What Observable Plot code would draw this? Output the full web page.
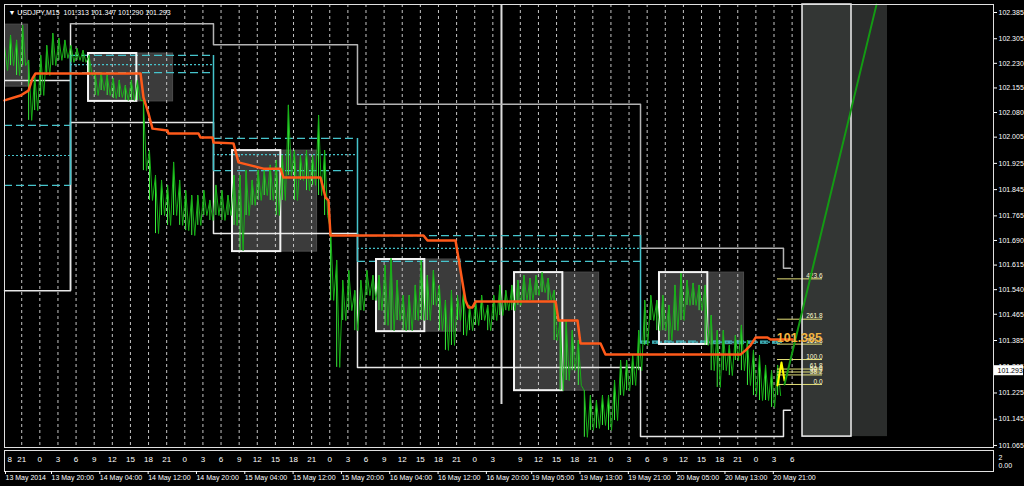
<!DOCTYPE html>
<html><head><meta charset="utf-8">
<script src="https://cdn.jsdelivr.net/npm/d3@7"></script>
<script src="https://cdn.jsdelivr.net/npm/@observablehq/plot@0.6"></script>
<style>
html,body{margin:0;padding:0;background:#000;overflow:hidden;}
#chart svg{display:block;}
</style></head><body><div id="chart"></div>
<script>
// ---------- data ----------
const symbol = "USDJPY,M15";
const lastBar = [101.313, 101.347, 101.290, 101.293];   // O H L C
const chartStart = "2014-05-13T12:23";                 // time at left edge
const weekendAt = "2014-05-19T00:00";
const weekendGapHours = 49.5;

// hourly high / low of USDJPY (hour index from left edge)
const barHigh = [102.284,102.315,102.300,102.345,102.239,102.193,102.254,102.284,102.321,102.306,
102.300,102.284,102.275,102.269,102.254,102.202,102.202,102.193,102.184,102.178,
102.162,102.178,102.178,102.117,101.964,101.888,101.873,101.858,101.928,101.873,
101.842,101.827,101.827,101.842,101.812,101.858,101.842,101.827,101.888,101.888,
101.903,101.873,101.903,101.903,101.919,101.934,101.949,102.102,101.964,101.949,
101.964,101.949,102.071,101.964,101.720,101.629,101.568,101.598,101.537,101.568,
101.598,101.583,101.583,101.614,101.635,101.568,101.522,101.522,101.553,101.629,
101.583,101.598,101.553,101.507,101.537,101.522,101.537,101.492,101.507,101.522,
101.492,101.522,101.553,101.537,101.553,101.568,101.583,101.574,101.583,101.592,
101.574,101.537,101.446,101.446,101.415,101.385,101.232,101.217,101.202,101.217,
101.217,101.263,101.324,101.324,101.339,101.415,101.507,101.522,101.507,101.522,
101.492,101.553,101.589,101.568,101.559,101.553,101.553,101.461,101.415,101.415,
101.370,101.400,101.431,101.385,101.355,101.339,101.309,101.293,101.309];
const barLow = [102.208,102.223,102.193,102.223,102.056,102.086,102.132,102.193,102.223,102.239,
102.245,102.233,102.239,102.233,102.193,102.132,102.147,102.132,102.123,102.126,
102.117,102.117,102.117,101.903,101.812,101.711,101.766,101.736,101.766,101.736,
101.720,101.705,101.736,101.766,101.751,101.766,101.751,101.766,101.736,101.659,
101.766,101.797,101.812,101.827,101.812,101.766,101.812,101.888,101.812,101.873,
101.842,101.858,101.827,101.766,101.507,101.303,101.446,101.476,101.415,101.476,
101.522,101.507,101.476,101.431,101.415,101.446,101.415,101.415,101.446,101.446,
101.446,101.492,101.415,101.355,101.370,101.446,101.400,101.415,101.431,101.446,
101.415,101.446,101.461,101.476,101.476,101.492,101.507,101.507,101.522,101.531,
101.507,101.385,101.232,101.263,101.293,101.248,101.090,101.111,101.117,101.126,
101.111,101.141,101.217,101.232,101.248,101.293,101.370,101.446,101.415,101.415,
101.385,101.415,101.446,101.492,101.492,101.476,101.370,101.293,101.242,101.293,
101.278,101.324,101.293,101.248,101.217,101.202,101.202,101.181,101.217];

// orange step moving line
const orangeT = [0,2.65,3.97,4.64,5.13,22.52,23.01,23.84,24.50,26.99,27.15,32.12,32.45,34.44,34.60,37.91,38.74,40.73,42.88,45.70,46.19,52.32,53.15,53.64,53.97,69.37,70.03,74.67,75.50,76.32,76.82,77.48,77.98,91.23,91.72,94.87,95.36,98.68,99.50,121.85,122.68,123.51,124.34,126.32,126.82,130.46];
const orangeP = [102.117,102.132,102.147,102.184,102.199,102.199,102.126,102.077,102.031,102.025,102.016,102.016,102.004,102.004,101.989,101.986,101.928,101.919,101.909,101.909,101.882,101.882,101.821,101.812,101.705,101.705,101.690,101.690,101.598,101.507,101.486,101.486,101.504,101.504,101.446,101.446,101.376,101.376,101.342,101.342,101.355,101.370,101.394,101.394,101.388,101.388];

// session boxes (start hour, high, low)
const sessStart = [-10.1, 13.91, 37.75, 61.59, 84.44, 108.44];
const sessTop = [102.348, 102.260, 101.964, 101.632, 101.592, 101.592];
const sessBottom = [102.159, 102.114, 101.656, 101.412, 101.232, 101.373];
const sessCore = 8, sessFull = 14;

// daily ranges
const dayStart = [0, 10.93, 34.60, 58.44, 105.30, 128.97, 130.13];
const dayHigh = [null, 102.351, 102.287, 102.105, 101.666, 101.605, 101.605];
const dayLow = [101.537, 102.050, 101.711, 101.303, 101.092, 101.172, 101.172];
const prevClose = 102.178;

// cyan pivot levels per day [upper, middle, lower]
const pivotDays = [
  [102.041, 101.949, 101.858],
  [102.254, 102.226, 102.202],
  [102.001, 101.952, 101.903],
  [101.705, 101.666, 101.626],
  [101.383, 101.380, 101.377]
];

const vLineT = 82.28, vLineLow = 101.190;

// fibonacci
const fibLevels = [0, 38.2, 50, 61.8, 100, 161.8, 261.8, 423.6];
const fibLow = 101.251, fibHigh = 101.327;
const fibT = [127.98, 135.43];
const fibZigT = [127.98, 128.64, 129.14];
const fibZigP = [101.248, 101.318, 101.263];
const bigPrice = 101.385, bigPriceAt = [131.6, 101.393];
const trendT = [129.14, 144.37], trendP = [101.251, 102.409];

// right zone
const zoneT = [132.12, 140.23, 146.19];
const zoneLow = 101.092;

// axis ticks
const yTicks = [102.385,102.305,102.230,102.155,102.080,102.005,101.925,101.845,101.765,101.690,101.615,101.540,101.465,101.385,101.305,101.225,101.145,101.065];
const hoursA = ["21","0","3","6","9","12","15","18","21","0","3","6","9","12","15","18","21","0","3","6","9","12","15","18","21","0","3"];
const hoursB = ["9","12","15","18","21","0","3","6","9","12","15","18","21","0","3","6"];
const hoursAStart = 2.85, hoursBStart = 85.4;
const dateLabels = ["13 May 2014","13 May 20:00","14 May 04:00","14 May 12:00","14 May 20:00","15 May 04:00","15 May 12:00","15 May 20:00","16 May 04:00","16 May 12:00","16 May 20:00","19 May 05:00","19 May 13:00","19 May 21:00","20 May 05:00","20 May 13:00","20 May 21:00"];
const dateTimes = ["2014-05-13T12:23","2014-05-13T20:00","2014-05-14T04:00","2014-05-14T12:00","2014-05-14T20:00","2014-05-15T04:00","2014-05-15T12:00","2014-05-15T20:00","2014-05-16T04:00","2014-05-16T12:00","2014-05-16T20:00","2014-05-19T05:00","2014-05-19T13:00","2014-05-19T21:00","2014-05-20T05:00","2014-05-20T13:00","2014-05-20T21:00"];

// ---------- build ----------
const xMax = 163.74, yMin = 101.0588, yMax = 102.4094;
const f3 = d => d.toFixed(3);
const ms = s => Date.parse(s + "Z");
const tradingHours = s => {
  const h = (ms(s) - ms(chartStart)) / 36e5;
  return ms(s) >= ms(weekendAt) ? h - weekendGapHours : h;
};

const bars = barHigh.map((h, i) => ({t: i, hi: h, lo: barLow[i]}));
const zig = bars.flatMap(b => [[b.t, b.hi], [b.t + 0.5, b.lo]]);
const orange = orangeT.map((t, i) => [t, orangeP[i]]);
const sess = sessStart.map((s, i) => ({s, top: sessTop[i], bot: sessBottom[i]}));
const topStep = dayStart.slice(1).map((t, i) => [t, dayHigh[i + 1]]);
const lowStep = dayStart.map((t, i) => [t, dayLow[i]]);
const pivots = pivotDays.flatMap((lv, d) => lv.map((p, k) => ({x1: dayStart[d], x2: dayStart[d + 1], y: p, k})));
const pivotV = pivotDays.slice(1).map((lv, d) => {
  const e = d3.extent([...pivotDays[d], ...lv]);
  return {x: dayStart[d + 1], y1: e[0], y2: e[1]};
});
const fib = fibLevels.map(l => ({l, p: fibLow + (fibHigh - fibLow) * l / 100}));
const gridTicks = [
  ...hoursA.map((h, k) => ({t: hoursAStart + 3 * k, label: h})),
  ...hoursB.map((h, k) => ({t: hoursBStart + 3 * k, label: h}))
];
const dateT = dateTimes.map(tradingHours);
const dateMap = new Map(dateT.map((t, i) => [t, dateLabels[i]]));

const font = "'Liberation Sans', Arial, sans-serif";
const cyan = "#46c4cc";

const main = Plot.plot({
  width: 1024, height: 449,
  marginTop: 4, marginBottom: 2, marginLeft: 4, marginRight: 31,
  x: {domain: [0, xMax], axis: null},
  y: {domain: [yMin, yMax], axis: null},
  style: {background: "#000", color: "#fff", fontFamily: font, fontSize: "7px", overflow: "visible"},
  marks: [
    // right zone
    Plot.rect([0], {x1: zoneT[0], x2: zoneT[1], y1: zoneLow, y2: yMax, fill: "#333634"}),
    Plot.rect([0], {x1: zoneT[1], x2: zoneT[2], y1: zoneLow, y2: yMax, fill: "#2b2d2c"}),
    // session boxes fill
    Plot.rect(sess, {x1: "s", x2: d => d.s + sessFull, y1: "bot", y2: "top", fill: "#3b3b3b", stroke: "#4d4d4d", clip: true}),
    // grid
    Plot.ruleX(gridTicks, {x: "t", stroke: "#c4c4c4", strokeDasharray: "3,3", strokeWidth: 1}),
    // vertical marker
    Plot.ruleX([vLineT], {y1: vLineLow, y2: yMax, stroke: "#dcdcdc", strokeWidth: 2}),
    // daily range
    Plot.ruleY([prevClose], {x1: dayStart[0], x2: dayStart[1], stroke: "#e8e8e8", strokeWidth: 1.5}),
    Plot.ruleX([dayStart[1]], {y1: dayLow[0], y2: dayHigh[1], stroke: "#e8e8e8", strokeWidth: 1.5}),
    Plot.line(topStep, {curve: "step-after", stroke: "#b4b4b4", strokeWidth: 1.5}),
    Plot.line(lowStep, {curve: "step-after", stroke: "#e8e8e8", strokeWidth: 1.5}),
    // pivots
    Plot.ruleY(pivots.filter(d => d.k !== 1), {x1: "x1", x2: "x2", y: "y", stroke: cyan, strokeWidth: 1.2, strokeDasharray: "8,4"}),
    Plot.ruleY(pivots.filter(d => d.k === 1), {x1: "x1", x2: "x2", y: "y", stroke: cyan, strokeWidth: 1.2, strokeDasharray: "2,2"}),
    Plot.ruleX(pivotV, {x: "x", y1: "y1", y2: "y2", stroke: cyan, strokeWidth: 1.5}),
    // session core outlines
    Plot.rect(sess, {x1: "s", x2: d => d.s + sessCore, y1: "bot", y2: "top", fill: "none", stroke: "#f4f4f4", strokeWidth: 2, clip: true}),
    // price
    Plot.ruleX(bars, {x: "t", y1: "lo", y2: "hi", stroke: "#3cf03c", strokeWidth: 1}),
    Plot.line(zig, {stroke: "#16b016", strokeWidth: 1}),
    // orange line
    Plot.line(orange, {stroke: "#ff5a1a", strokeWidth: 2.5}),
    // fib
    Plot.ruleY(fib, {y: "p", x1: fibT[0], x2: fibT[1], stroke: "#e6e27a", strokeWidth: 1}),
    Plot.text(fib, {y: "p", x: fibT[1], text: d => d.l.toFixed(1), textAnchor: "end", dy: -3, fill: "#fffbd0", fontSize: 6.5}),
    Plot.line(fibZigT.map((t, i) => [t, fibZigP[i]]), {stroke: "#ffff00", strokeWidth: 2}),
    Plot.rect([0], {x1: zoneT[0], x2: zoneT[1], y1: zoneLow, y2: yMax, fill: "none", stroke: "#f0f0f0", strokeWidth: 1.5}),
    Plot.line(trendT.map((t, i) => [t, trendP[i]]), {stroke: "#139a13", strokeWidth: 2}),
    Plot.text([bigPrice], {x: bigPriceAt[0], y: bigPriceAt[1], text: f3, fill: "#f2b440", fontSize: 12.5, fontWeight: "bold"}),
    // frame & axis
    Plot.frame({stroke: "#e0e0e0"}),
    Plot.axisY(yTicks, {anchor: "right", tickSize: 3, tickPadding: 2, tickFormat: f3, label: null, stroke: "white", fill: "white", fontSize: 7}),
    Plot.rect([lastBar[3]], {x1: xMax, x2: xMax, y1: d => d, y2: d => d, insetLeft: 1, insetRight: -30, insetTop: -5, insetBottom: -5, fill: "white"}),
    Plot.text([lastBar[3]], {y: d => d, text: f3, frameAnchor: "right", dx: 4, textAnchor: "start", fill: "black", fontSize: 7}),
    // header
    Plot.text([`▼ ${symbol}  ${lastBar.map(f3).join(" ")}`], {frameAnchor: "top-left", dx: 4, dy: 6, textAnchor: "start", fill: "white", fontSize: 7})
  ]
});

const sub = Plot.plot({
  width: 1024, height: 37,
  marginTop: 1, marginBottom: 15, marginLeft: 4, marginRight: 31,
  x: {domain: [0, xMax], axis: null},
  style: {background: "#000", color: "#fff", fontFamily: font, fontSize: "7px", overflow: "visible"},
  marks: [
    Plot.frame({stroke: "#e0e0e0"}),
    Plot.text(gridTicks, {x: "t", text: "label", frameAnchor: "top", dy: 6, fill: "white", fontSize: 8}),
    Plot.text(["8"], {frameAnchor: "top-left", dx: 3, dy: 6, fill: "white", fontSize: 8}),
    Plot.axisX(dateT, {anchor: "bottom", tickSize: 3, tickPadding: 1, tickFormat: t => dateMap.get(t), textAnchor: "start", dx: 1, label: null, stroke: "white", fill: "white", fontSize: 7}),
    Plot.text(["2"], {frameAnchor: "top-right", dx: 5, dy: 5, textAnchor: "start", fill: "white", fontSize: 7}),
    Plot.text(["0.00"], {frameAnchor: "top-right", dx: 5, dy: 13, textAnchor: "start", fill: "white", fontSize: 7})
  ]
});

document.getElementById("chart").append(main, sub);
</script>
</body></html>
